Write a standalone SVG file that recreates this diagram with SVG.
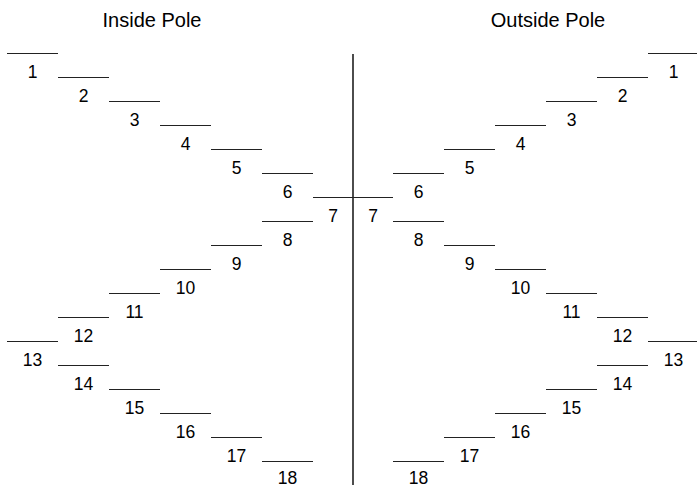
<svg xmlns="http://www.w3.org/2000/svg" width="697" height="487" viewBox="0 0 697 487">
<style>
.t{font-family:"Liberation Sans",Arial,sans-serif;fill:#000}
.title{font-size:20px;text-anchor:middle}
.lbl{font-size:17.5px;text-anchor:middle}
.step{stroke:#222;stroke-width:1.2;fill:none}
.pole{stroke:#000;stroke-width:1.4;fill:none}
</style>
<rect width="697" height="487" fill="#fff"/>
<g id="titles">
<text class="t title" x="152" y="27">Inside Pole</text>
<text class="t title" x="548" y="27">Outside Pole</text>
</g>
<g id="connectors">
<line class="pole" x1="353" y1="54" x2="353" y2="485"/>
</g>
<g id="inside">
<g id="in1"><line class="step" x1="7" y1="53.5" x2="58" y2="53.5"/><text class="t lbl" x="32.5" y="77.5">1</text></g>
<g id="in2"><line class="step" x1="58" y1="77.5" x2="109" y2="77.5"/><text class="t lbl" x="83.5" y="101.5">2</text></g>
<g id="in3"><line class="step" x1="109" y1="101.5" x2="160" y2="101.5"/><text class="t lbl" x="134.5" y="125.5">3</text></g>
<g id="in4"><line class="step" x1="160" y1="125.5" x2="211" y2="125.5"/><text class="t lbl" x="185.5" y="149.5">4</text></g>
<g id="in5"><line class="step" x1="211" y1="149.5" x2="262" y2="149.5"/><text class="t lbl" x="236.5" y="173.5">5</text></g>
<g id="in6"><line class="step" x1="262" y1="173.5" x2="313" y2="173.5"/><text class="t lbl" x="287.5" y="197.5">6</text></g>
<g id="in8"><line class="step" x1="262" y1="221.5" x2="313" y2="221.5"/><text class="t lbl" x="287.5" y="245.5">8</text></g>
<g id="in9"><line class="step" x1="211" y1="245.5" x2="262" y2="245.5"/><text class="t lbl" x="236.5" y="269.5">9</text></g>
<g id="in10"><line class="step" x1="160" y1="269.5" x2="211" y2="269.5"/><text class="t lbl" x="185.5" y="293.5">10</text></g>
<g id="in11"><line class="step" x1="109" y1="293.5" x2="160" y2="293.5"/><text class="t lbl" x="134.5" y="317.5">11</text></g>
<g id="in12"><line class="step" x1="58" y1="317.5" x2="109" y2="317.5"/><text class="t lbl" x="83.5" y="341.5">12</text></g>
<g id="in13"><line class="step" x1="7" y1="341.5" x2="58" y2="341.5"/><text class="t lbl" x="32.5" y="365.5">13</text></g>
<g id="in14"><line class="step" x1="58" y1="365.5" x2="109" y2="365.5"/><text class="t lbl" x="83.5" y="389.5">14</text></g>
<g id="in15"><line class="step" x1="109" y1="389.5" x2="160" y2="389.5"/><text class="t lbl" x="134.5" y="413.5">15</text></g>
<g id="in16"><line class="step" x1="160" y1="413.5" x2="211" y2="413.5"/><text class="t lbl" x="185.5" y="437.5">16</text></g>
<g id="in17"><line class="step" x1="211" y1="437.5" x2="262" y2="437.5"/><text class="t lbl" x="236.5" y="461.5">17</text></g>
<g id="in18"><line class="step" x1="262" y1="461.5" x2="313" y2="461.5"/><text class="t lbl" x="287.5" y="484">18</text></g>
</g>
<g id="center7">
<line class="step" x1="313" y1="197.5" x2="393" y2="197.5"/>
<text class="t lbl" x="333" y="221.5">7</text>
<text class="t lbl" x="373" y="221.5">7</text>
</g>
<g id="outside">
<g id="out1"><line class="step" x1="648" y1="53.5" x2="699" y2="53.5"/><text class="t lbl" x="673.5" y="77.5">1</text></g>
<g id="out2"><line class="step" x1="597" y1="77.5" x2="648" y2="77.5"/><text class="t lbl" x="622.5" y="101.5">2</text></g>
<g id="out3"><line class="step" x1="546" y1="101.5" x2="597" y2="101.5"/><text class="t lbl" x="571.5" y="125.5">3</text></g>
<g id="out4"><line class="step" x1="495" y1="125.5" x2="546" y2="125.5"/><text class="t lbl" x="520.5" y="149.5">4</text></g>
<g id="out5"><line class="step" x1="444" y1="149.5" x2="495" y2="149.5"/><text class="t lbl" x="469.5" y="173.5">5</text></g>
<g id="out6"><line class="step" x1="393" y1="173.5" x2="444" y2="173.5"/><text class="t lbl" x="418.5" y="197.5">6</text></g>
<g id="out8"><line class="step" x1="393" y1="221.5" x2="444" y2="221.5"/><text class="t lbl" x="418.5" y="245.5">8</text></g>
<g id="out9"><line class="step" x1="444" y1="245.5" x2="495" y2="245.5"/><text class="t lbl" x="469.5" y="269.5">9</text></g>
<g id="out10"><line class="step" x1="495" y1="269.5" x2="546" y2="269.5"/><text class="t lbl" x="520.5" y="293.5">10</text></g>
<g id="out11"><line class="step" x1="546" y1="293.5" x2="597" y2="293.5"/><text class="t lbl" x="571.5" y="317.5">11</text></g>
<g id="out12"><line class="step" x1="597" y1="317.5" x2="648" y2="317.5"/><text class="t lbl" x="622.5" y="341.5">12</text></g>
<g id="out13"><line class="step" x1="648" y1="341.5" x2="699" y2="341.5"/><text class="t lbl" x="673.5" y="365.5">13</text></g>
<g id="out14"><line class="step" x1="597" y1="365.5" x2="648" y2="365.5"/><text class="t lbl" x="622.5" y="389.5">14</text></g>
<g id="out15"><line class="step" x1="546" y1="389.5" x2="597" y2="389.5"/><text class="t lbl" x="571.5" y="413.5">15</text></g>
<g id="out16"><line class="step" x1="495" y1="413.5" x2="546" y2="413.5"/><text class="t lbl" x="520.5" y="437.5">16</text></g>
<g id="out17"><line class="step" x1="444" y1="437.5" x2="495" y2="437.5"/><text class="t lbl" x="469.5" y="461.5">17</text></g>
<g id="out18"><line class="step" x1="393" y1="461.5" x2="444" y2="461.5"/><text class="t lbl" x="418.5" y="484">18</text></g>
</g>
</svg>
